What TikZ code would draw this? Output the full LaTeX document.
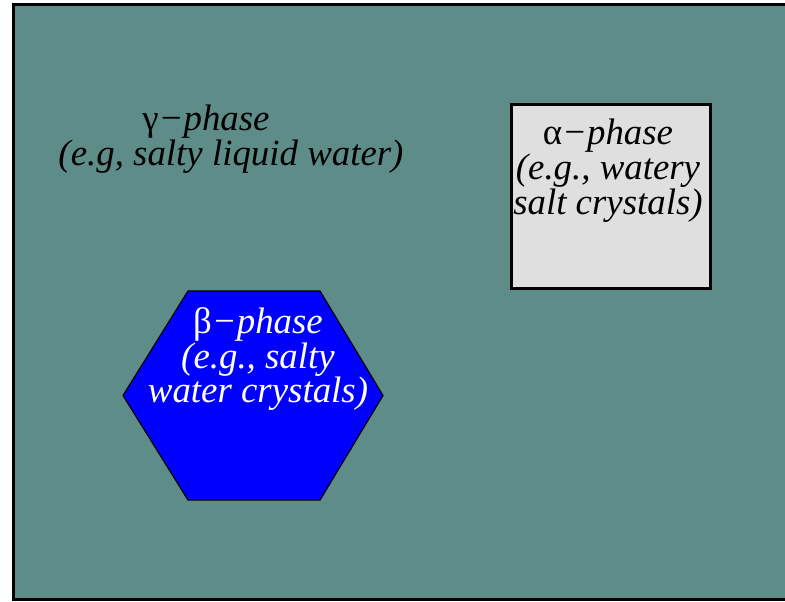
\documentclass[tikz,border=0pt]{standalone}
\usepackage{fontspec}
\setmainfont{Liberation Serif}
\definecolor{phaseteal}{RGB}{94,140,137}
\definecolor{crystalgray}{RGB}{223,223,223}
\tikzset{
  % italic labels of the three phases
  phase label/.style={font=\fontsize{37}{35}\selectfont\itshape, align=center, inner sep=0pt},
}
\begin{document}
\begin{tikzpicture}[x=1bp,y=-1bp]
\useasboundingbox (0,0) rectangle (785,602);
\clip (0,0) rectangle (785,602);

% gamma phase, the whole background
\draw[fill=phaseteal,line width=3.4bp] (13.5,4.5) rectangle (800,599.5);

% alpha phase
\draw[fill=crystalgray,line width=3bp] (511,105) rectangle (710,288);

% beta phase
\draw[fill=blue,line width=1.2bp] (188,291) -- (320,291) -- (383,395.5) -- (320,500) -- (188,500) -- (123,395.5) -- cycle;

\node[phase label] (gamma) at (231,139) {\textup{γ}−phase\hspace*{50bp}\\(e.g, salty liquid water)};
\node[phase label] (alpha) at (608,171) {\textup{α}−phase\\(e.g., watery\\salt crystals)};
\node[phase label,text=white] (beta) at (258,359) {\textup{β}−phase\\(e.g., salty\\water crystals)};

\end{tikzpicture}
\end{document}
